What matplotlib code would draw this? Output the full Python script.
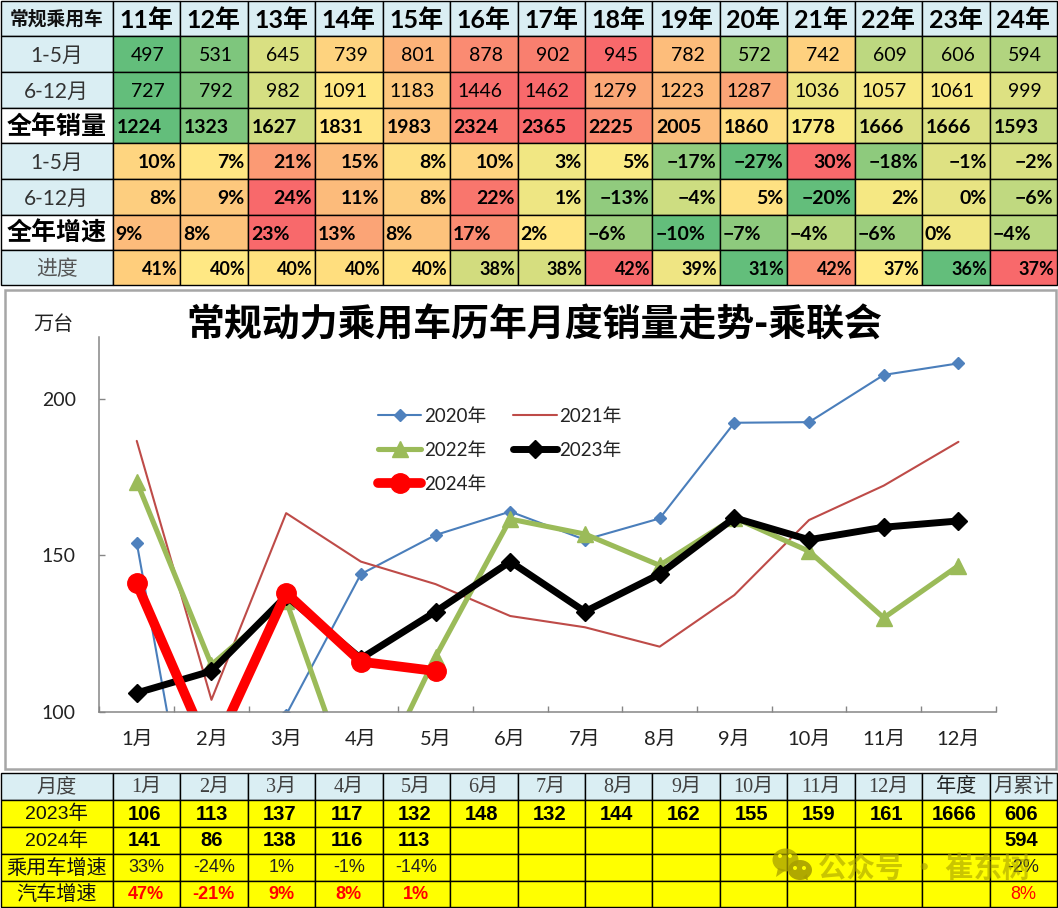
import numpy as np
import matplotlib
matplotlib.use("Agg")
import matplotlib.pyplot as plt
from matplotlib.patches import Rectangle, Ellipse, Polygon

# ---------- data ----------
year_labels = ["11年","12年","13年","14年","15年","16年","17年","18年","19年","20年","21年","22年","23年","24年"]
sales_jan_may = [497,531,645,739,801,878,902,945,782,572,742,609,606,594]
sales_jun_dec = [727,792,982,1091,1183,1446,1462,1279,1223,1287,1036,1057,1061,999]
sales_full = [1224,1323,1627,1831,1983,2324,2365,2225,2005,1860,1778,1666,1666,1593]
growth_jan_may = [10,7,21,15,8,10,3,5,-17,-27,30,-18,-1,-2]
growth_jun_dec = [8,9,24,11,8,22,1,-13,-4,5,-20,2,0,-6]
growth_full = [9,8,23,13,8,17,2,-6,-10,-7,-4,-6,0,-4]
progress = [41,40,40,40,40,38,38,42,39,31,42,37,36,37]
progress_colors = ["#FFCE7C","#FFE884","#FFE27F","#FFDE7E","#FFE280","#D2DC7E","#D6DE7F","#F8696B",
                   "#EFE583","#63BE7B","#FB8D72","#FFEB84","#63BE7B","#F8696B"]

months = ["1月","2月","3月","4月","5月","6月","7月","8月","9月","10月","11月","12月"]
m2020 = [154,21,99,144,156.5,164,155,161.8,192.4,192.6,207.7,211.4]
m2021 = [186.6,103.8,163.5,148,140.8,130.6,127,120.8,137.3,161.3,172.3,186.3]
m2022 = [173.6,115,135.5,68,117.5,161.6,156.8,146.8,162,151.3,130,146.7]
m2023 = [106,113,137,117,132,148,132,144,162,155,159,161]
m2024 = [141,86,138,116,113]
y_ticks = [100,150,200]

total_2023, cum_2023 = 1666, 606
cum_2024 = 594
pv_growth = [33,-24,1,-1,-14]
cum_pv_growth = -2
auto_growth = [47,-21,9,8,1]
cum_auto_growth = 8

# ---------- layout (pixels) ----------
W, H = 1058, 908
col_edges = [1,112.6,179.8,247.8,314.7,382.7,449.6,517.7,584.7,652.4,719.7,786.6,854.6,921.8,989.8,1056.5]
row_edges = [1,36,71.5,107.5,143,178.5,214.5,249.5,285]
bot_edges = [772.5,799.5,826.5,853.5,880.5,907]

HEAD = "#DAEEF3"
GREEN, YEL, RED = np.array([0x63,0xBE,0x7B])/255, np.array([0xFF,0xEB,0x84])/255, np.array([0xF8,0x69,0x6B])/255
LATO = ["Lato", "Noto Sans CJK SC", "DejaVu Sans"]
CJK = ["Noto Sans CJK SC", "DejaVu Sans"]
LIB = ["Liberation Sans", "Noto Sans CJK SC", "DejaVu Sans"]
SERIF = ["Liberation Serif", "Noto Sans CJK SC", "DejaVu Sans"]

def scale_colors(values):
    v = np.array(values, float)
    lo, mid, hi = v.min(), np.percentile(v, 50), v.max()
    out = []
    for x in v:
        if x <= mid:
            t = (x - lo) / (mid - lo)
            out.append(GREEN + (YEL - GREEN) * t)
        else:
            t = (x - mid) / (hi - mid)
            out.append(YEL + (RED - YEL) * t)
    return out

fig = plt.figure(figsize=(W/100, H/100), dpi=100, facecolor="white")
ov = fig.add_axes([0, 0, 1, 1], zorder=1)
ov.set_xlim(0, W); ov.set_ylim(H, 0); ov.axis("off")

def cell(x0, x1, y0, y1, color):
    ov.add_patch(Rectangle((x0, y0), x1-x0, y1-y0, facecolor=color, edgecolor="black", linewidth=1.0))

def pct(v):
    return f"{v}%".replace("-", "−")

# ---------- top table ----------
rows = [
    ("1-5月", sales_jan_may, scale_colors(sales_jan_may), str, "right", 15, "normal", HEAD, "normal", 15, "#333333"),
    ("6-12月", sales_jun_dec, scale_colors(sales_jun_dec), str, "right", 15, "normal", HEAD, "normal", 15, "#333333"),
    ("全年销量", sales_full, scale_colors(sales_full), str, "left", 4, "bold", "white", "bold", 18, "black"),
    ("1-5月", growth_jan_may, scale_colors(growth_jan_may), pct, "right", 3, "bold", HEAD, "normal", 15, "#333333"),
    ("6-12月", growth_jun_dec, scale_colors(growth_jun_dec), pct, "right", 3, "bold", HEAD, "normal", 15, "#333333"),
    ("全年增速", growth_full, scale_colors(growth_full), pct, "left", 3, "bold", "white", "bold", 18, "black"),
    ("进度", progress, progress_colors, pct, "right", 2, "bold", HEAD, "normal", 15, "#555555"),
]
DY = 2
cell(col_edges[0], col_edges[1], row_edges[0], row_edges[1], HEAD)
ov.text((col_edges[0]+col_edges[1])/2, (row_edges[0]+row_edges[1])/2 + 1, "常规乘用车", family=CJK, weight="bold",
        fontsize=13.5, ha="center", va="center", color="#111111")
for i, lab in enumerate(year_labels):
    cell(col_edges[i+1], col_edges[i+2], row_edges[0], row_edges[1], HEAD)
    ov.text((col_edges[i+1]+col_edges[i+2])/2, (row_edges[0]+row_edges[1])/2 + DY, lab, family=LATO, weight="bold",
            fontsize=18, ha="center", va="center", color="black")
for r, (lab, vals, cols, fmt, ha, pad, w, lab_bg, lab_w, lab_fs, lab_c) in enumerate(rows):
    y0, y1 = row_edges[r+1], row_edges[r+2]
    ym = (y0+y1)/2
    cell(col_edges[0], col_edges[1], y0, y1, lab_bg)
    ov.text((col_edges[0]+col_edges[1])/2, ym + DY, lab, family=LATO if lab_w == "normal" else CJK, weight=lab_w,
            fontsize=lab_fs, ha="center", va="center", color=lab_c)
    for i, v in enumerate(vals):
        x0, x1 = col_edges[i+1], col_edges[i+2]
        cell(x0, x1, y0, y1, cols[i])
        tx = x1 - pad if ha == "right" else x0 + pad
        ov.text(tx, ym + DY, fmt(v), family=LATO, weight=w, fontsize=14 if r != 6 else 13,
                ha=ha, va="center", color="black")

# ---------- chart frame and texts ----------
ov.add_patch(Rectangle((5, 290), 1051, 478.5, facecolor="white", edgecolor="#A6A6A6", linewidth=1.8))
ov.text(534.5, 325, "常规动力乘用车历年月度销量走势-乘联会", family=CJK, weight="bold", fontsize=27.3,
        ha="center", va="center", color="black")
ov.text(53, 324.5, "万台", family=CJK, fontsize=14.5, ha="center", va="center", color="#222222")

# ---------- chart ----------
ax_l, ax_r, ax_t, ax_b = 99.4, 995.8, 337, 711.7
ax = fig.add_axes([ax_l/W, 1-ax_b/H, (ax_r-ax_l)/W, (ax_b-ax_t)/H], zorder=2)
ax.patch.set_alpha(0)
ymin = 100
ymax = 100 + (ax_b-ax_t)/3.127
ax.set_xlim(0.5, 12.5); ax.set_ylim(ymin, ymax)
x = np.arange(1, 13)
base = dict(solid_capstyle="round", solid_joinstyle="round")
ax.plot(x, m2020, color="#4A7EBB", lw=1.5, marker="D", ms=5.8, mfc="#4F81BD", mec="#4F81BD", label="2020年", **base)
ax.plot(x, m2021, color="#BE4B48", lw=1.5, label="2021年", **base)
ax.plot(x, m2022, color="#9BBB59", lw=3.7, marker="^", ms=11, mfc="#9BBB59", mec="#9BBB59", label="2022年", **base)
ax.plot(x, m2023, color="black", lw=5, marker="D", ms=8.8, mfc="black", mec="black", label="2023年", **base)
ax.plot(x[:len(m2024)], m2024, color="#FF0000", lw=7, marker="o", ms=14, mfc="#FF0000", mec="#FF0000", label="2024年", **base)

for s in ("top", "right"):
    ax.spines[s].set_visible(False)
for s in ("left", "bottom"):
    ax.spines[s].set_color("#868686"); ax.spines[s].set_linewidth(1.1)
ax.set_yticks(y_ticks)
ax.set_yticklabels([str(t) for t in y_ticks], family=LATO, fontsize=14, color="#222222")
ax.tick_params(axis="y", direction="in", length=4.5, width=1, color="#868686", pad=17)
ax.set_xticks(np.arange(0.5, 13.0, 1.0))
ax.set_xticklabels([])
ax.set_xticks(x, minor=True)
ax.set_xticklabels(months, minor=True, family=LATO, fontsize=14.5, color="#222222")
ax.tick_params(axis="x", which="major", direction="in", length=4.5, width=1, color="#868686")
ax.tick_params(axis="x", which="minor", length=0, pad=14)

h = {l.get_label(): l for l in ax.get_lines()}
order = ["2020年", "2022年", "2024年", "2021年", "2023年"]
leg = ax.legend([h[k] for k in order], order, ncol=2, frameon=False, loc="upper left",
                bbox_to_anchor=((378-ax_l)/(ax_r-ax_l), 1-(408-ax_t)/(ax_b-ax_t)), borderaxespad=0, borderpad=0,
                prop={"family": LATO, "size": 13.5}, handlelength=2.3, handletextpad=0.15,
                columnspacing=1.45, labelspacing=0.9, numpoints=1)
for t in leg.get_texts():
    t.set_color("#222222")

# ---------- bottom table ----------
def bcell_text(i, r, s, dx=0, dy=1, **kw):
    ov.text((col_edges[i]+col_edges[i+1])/2 + dx, (bot_edges[r]+bot_edges[r+1])/2 + dy, s, ha="center", va="center", **kw)

col_n = len(col_edges)-1
for r in range(5):
    for i in range(col_n):
        cell(col_edges[i], col_edges[i+1], bot_edges[r], bot_edges[r+1], HEAD if r == 0 else "#FFFF00")

head_labels = ["月度"] + months + ["年度", "月累计"]
for i, s in enumerate(head_labels):
    bcell_text(i, 0, s, family=SERIF if 0 < i < 13 else CJK, fontsize=14.5, color="#404040" if i != 13 else "#222222")
bcell_text(0, 1, "2023年", family=LIB, fontsize=14, color="#111111")
bcell_text(0, 2, "2024年", family=LIB, fontsize=14, color="#111111")
bcell_text(0, 3, "乘用车增速", family=CJK, fontsize=14.5, color="#111111")
bcell_text(0, 4, "汽车增速", family=CJK, fontsize=14.5, color="#111111")
big = dict(family=LIB, weight="bold", fontsize=14.5, color="black", dx=-2)
for i, v in enumerate(m2023):
    bcell_text(i+1, 1, str(v), **big)
bcell_text(13, 1, str(total_2023), **big)
bcell_text(14, 1, str(cum_2023), **big)
for i, v in enumerate(m2024):
    bcell_text(i+1, 2, str(v), **big)
bcell_text(14, 2, str(cum_2024), **big)
for i, v in enumerate(pv_growth):
    bcell_text(i+1, 3, f"{v}%", family=LIB, fontsize=13, color="#222222")
bcell_text(14, 3, f"{cum_pv_growth}%", family=LIB, fontsize=13, color="#222222")
for i, v in enumerate(auto_growth):
    bcell_text(i+1, 4, f"{v}%", family=LIB, weight="bold", fontsize=13, color="#FF0000")
bcell_text(14, 4, f"{cum_auto_growth}%", family=LIB, fontsize=13, color="#FF0000")

# ---------- watermark ----------
WM = "#A8A000"
ov.add_patch(Ellipse((785.5, 860), 26, 23, color=WM, alpha=0.75, lw=0))
ov.add_patch(Polygon([[778, 868], [776, 877], [786, 870]], color=WM, alpha=0.75, lw=0))
ov.add_patch(Ellipse((800, 870), 24, 20, color=WM, alpha=0.9, lw=0))
ov.add_patch(Polygon([[803, 877], [808, 881], [807, 874]], color=WM, alpha=0.9, lw=0))
for ex, ey in [(780, 856), (790, 856), (795, 868), (804, 868)]:
    ov.add_patch(Ellipse((ex, ey), 4, 4, color="#FFFF00", lw=0))
ov.text(818, 868.5, "公众号 · 崔东树", family=CJK, weight="bold", fontsize=20.5, ha="left", va="center",
        color=WM, alpha=0.6)

fig.savefig("out.png", dpi=100)
